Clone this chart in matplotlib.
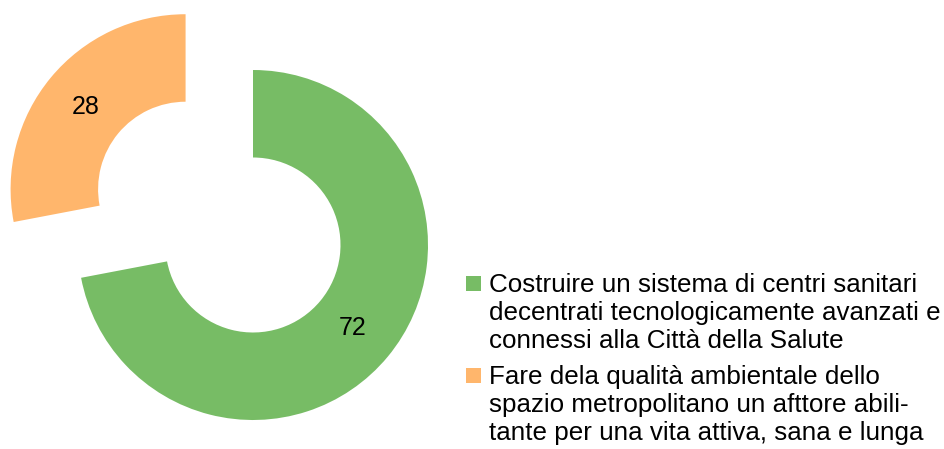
import matplotlib
matplotlib.use('Agg')
import matplotlib.pyplot as plt
from matplotlib.patches import Rectangle

plt.rcParams['font.family'] = ['Liberation Sans', 'DejaVu Sans']

values = [72, 28]
labels = ['Costruire un sistema di centri sanitari\ndecentrati tecnologicamente avanzati e\nconnessi alla Città della Salute',
          'Fare dela qualità ambientale dello\nspazio metropolitano un afttore abili-\ntante per una vita attiva, sana e lunga']
colors = ['#77bc65', '#ffb66c']
explode = [0, 0.5]

W, H = 945, 449
fig = plt.figure(figsize=(W / 100, H / 100), dpi=100)
ax = fig.add_axes([0, 0, 1, 1])

# donut centre in pixels and outer radius
cx, cy, r = 253, 245, 175

wedges, _, pcts = ax.pie(values, colors=colors, explode=explode, startangle=90,
                         counterclock=False, radius=1,
                         wedgeprops=dict(width=0.5, linewidth=0),
                         autopct=lambda p: f'{p:.0f}', pctdistance=0.74,
                         textprops=dict(fontsize=18, color='black'))

ax.set_xlim(-cx / r, (W - cx) / r)
ax.set_ylim(-(H - cy) / r, cy / r)
ax.set_aspect('auto')
ax.axis('off')

# legend: square key + wrapped text, first baseline of each entry in pixels
baselines = [291, 383]
pitch = 28.5
for lab, col, yb in zip(labels, colors, baselines):
    fig.add_artist(Rectangle((466 / W, 1 - yb / H), 15 / W, 15 / H,
                             transform=fig.transFigure, facecolor=col, linewidth=0))
    # multi-line 'baseline' alignment pins the last line
    y_last = yb + pitch * lab.count('\n')
    fig.text(489 / W, 1 - y_last / H, lab, fontsize=18.7, va='baseline', ha='left',
             linespacing=1.2)

fig.savefig('out.png', dpi=100)
